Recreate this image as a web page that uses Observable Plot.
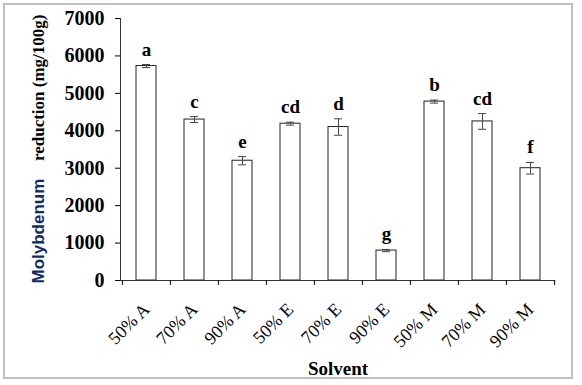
<!DOCTYPE html>
<html>
<head>
<meta charset="utf-8">
<script src="https://cdn.jsdelivr.net/npm/d3@7"></script>
<script src="https://cdn.jsdelivr.net/npm/@observablehq/plot@0.6"></script>
<style>
  html, body { margin: 0; padding: 0; background: #fff; }
  #wrap { position: relative; width: 582px; height: 385px; }
  #border { position: absolute; left: 3px; top: 3px; width: 570px; height: 376px; border: 2px solid #c0c0c0; box-sizing: border-box; pointer-events: none; }
</style>
</head>
<body>
<div id="wrap"><div id="border"></div></div>
<script>
const solvents = ["50% A", "70% A", "90% A", "50% E", "70% E", "90% E", "50% M", "70% M", "90% M"];
const means = [5730, 4300, 3200, 4190, 4100, 800, 4780, 4250, 3000];
const errors = [40, 80, 110, 40, 220, 30, 40, 210, 155];
const letters = ["a", "c", "e", "cd", "d", "g", "b", "cd", "f"];
const yTicks = [0, 1000, 2000, 3000, 4000, 5000, 6000, 7000];

const data = solvents.map((s, i) => ({solvent: s, mean: means[i], err: errors[i], letter: letters[i]}));

const W = 582, H = 385, ML = 120, MR = 27, MT = 18, MB = 105;
const step = (W - ML - MR) / solvents.length;
const serif = "'Liberation Serif', 'Times New Roman', serif";

const chart = Plot.plot({
  width: W, height: H,
  marginLeft: ML, marginRight: MR, marginTop: MT, marginBottom: MB,
  style: {fontFamily: serif, background: "transparent", color: "#000", overflow: "visible"},
  x: {domain: solvents, paddingInner: 0.59, paddingOuter: 0.295, label: null},
  y: {domain: [0, 7000], label: null},
  marks: [
    Plot.barY(data, {x: "solvent", y: "mean", fill: "white", stroke: "#222", strokeWidth: 1}),
    Plot.ruleX(data, {x: "solvent", y1: d => d.mean - d.err, y2: d => d.mean + d.err, stroke: "#444"}),
    Plot.tickY(data, {x: "solvent", y: d => d.mean + d.err, insetLeft: 6, insetRight: 6, stroke: "#444"}),
    Plot.tickY(data, {x: "solvent", y: d => d.mean - d.err, insetLeft: 6, insetRight: 6, stroke: "#444"}),
    Plot.text(data, {x: "solvent", y: d => d.mean + d.err, text: "letter", dy: -9, lineAnchor: "bottom", fontWeight: "bold", fontSize: 19, fontFamily: serif}),
    Plot.ruleY([0], {stroke: "#333"}),
    Plot.frame({anchor: "left", stroke: "#333"}),
    Plot.axisY({ticks: yTicks, tickSize: 5, tickPadding: 11, fontSize: 20, fontWeight: "bold", fontFamily: serif, tickFormat: d => String(d), label: null}),
    Plot.axisX({tickSize: 5, text: null, dx: -step / 2, label: null}),
    Plot.axisX({ticks: [solvents[solvents.length - 1]], tickSize: 5, text: null, dx: step / 2, label: null}),
    Plot.axisX({tickSize: 0, tickRotate: -45, tickPadding: 26, fontSize: 18, fontFamily: serif, label: null}),
    Plot.text(["Solvent"], {frameAnchor: "bottom", text: d => d, dy: 94, lineAnchor: "bottom", fontWeight: "bold", fontSize: 19, fontFamily: serif}),
    Plot.text(["Molybdenum"], {frameAnchor: "bottom-left", text: d => d, rotate: -90, textAnchor: "start", lineAnchor: "middle", dx: -82, dy: 3, fontFamily: "'Liberation Sans', Arial, sans-serif", fontWeight: "bold", fontSize: 17, fill: "#0d2a6e"}),
    Plot.text(["reduction (mg/100g)"], {frameAnchor: "top-left", text: d => d, rotate: -90, textAnchor: "end", lineAnchor: "middle", dx: -82, dy: -4, fontFamily: serif, fontWeight: "bold", fontSize: 17, fill: "#000"})
  ]
});
document.getElementById("wrap").prepend(chart);
</script>
</body>
</html>
